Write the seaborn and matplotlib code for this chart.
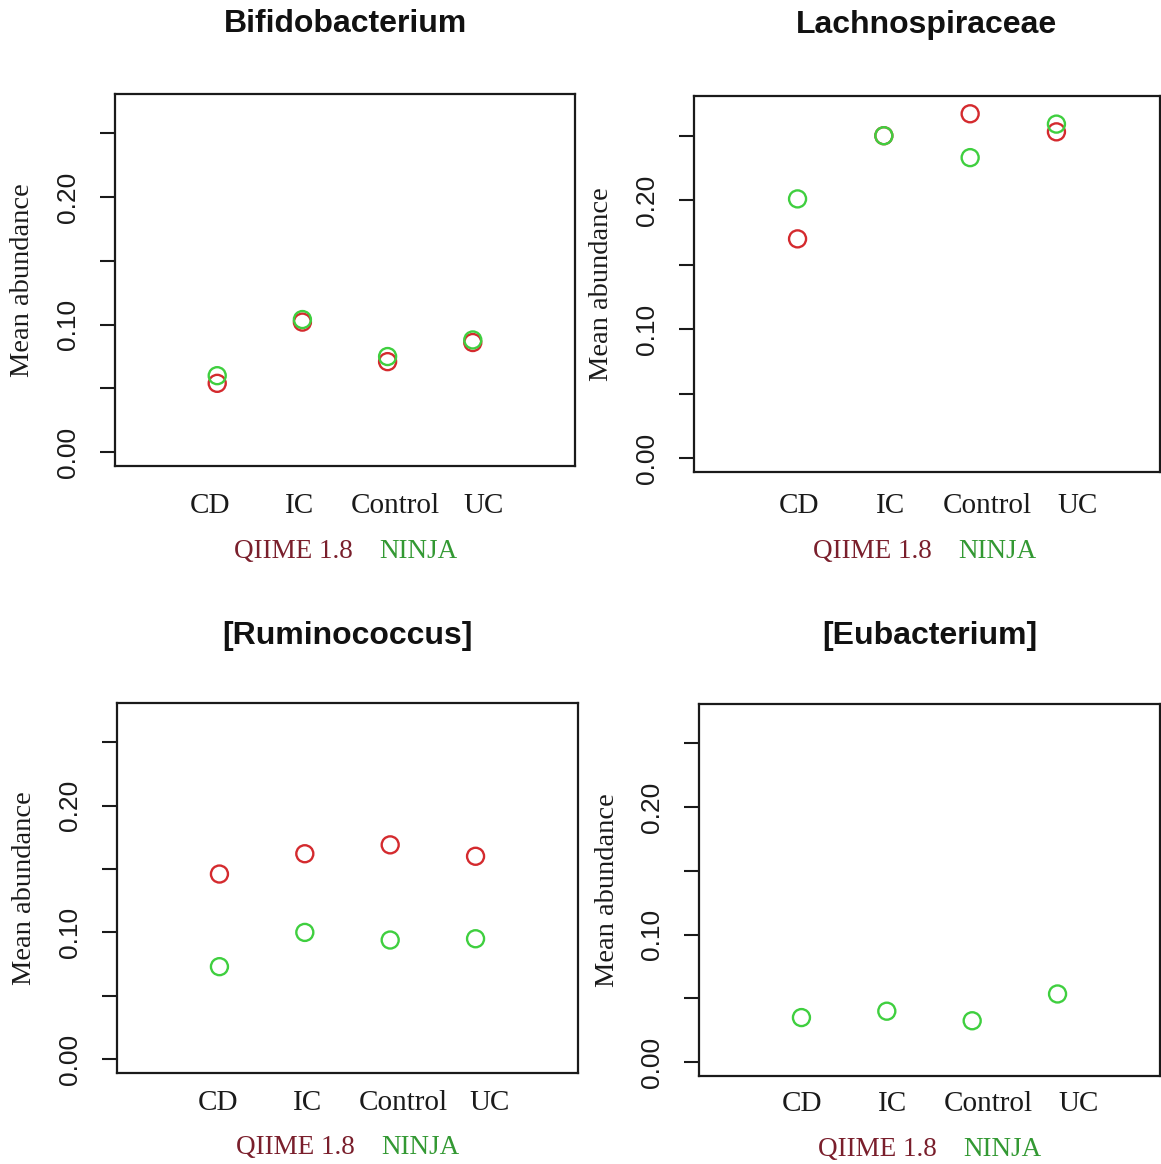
import matplotlib
matplotlib.use("Agg")
import matplotlib.pyplot as plt
import numpy as np
import pandas as pd
import seaborn as sns

# ---- data -------------------------------------------------------------
groups = ["CD", "IC", "Control", "UC"]
methods = ["QIIME 1.8", "NINJA"]
taxa = ["Bifidobacterium", "Lachnospiraceae", "[Ruminococcus]", "[Eubacterium]"]

bifido_qiime = [0.054, 0.102, 0.071, 0.086]
bifido_ninja = [0.060, 0.104, 0.075, 0.088]
lachno_qiime = [0.170, 0.250, 0.267, 0.253]
lachno_ninja = [0.201, 0.250, 0.233, 0.259]
rumino_qiime = [0.146, 0.162, 0.169, 0.160]
rumino_ninja = [0.073, 0.100, 0.094, 0.095]
eubac_qiime = [np.nan, np.nan, np.nan, np.nan]   # not reported by QIIME
eubac_ninja = [0.035, 0.040, 0.0325, 0.0535]

y_ticks = [0.00, 0.05, 0.10, 0.15, 0.20, 0.25]
y_tick_labels = ["0.00", "", "0.10", "", "0.20", ""]
y_title = "Mean abundance"

series = {
    "Bifidobacterium": (bifido_qiime, bifido_ninja),
    "Lachnospiraceae": (lachno_qiime, lachno_ninja),
    "[Ruminococcus]": (rumino_qiime, rumino_ninja),
    "[Eubacterium]": (eubac_qiime, eubac_ninja),
}

# ---- styling ----------------------------------------------------------
sns.set_theme(style="white")
plt.rcParams["font.family"] = ["Liberation Sans", "DejaVu Sans"]

point_colors = {"QIIME 1.8": "#d42a2e", "NINJA": "#3fcf3f"}
text_colors = {"QIIME 1.8": "#7a1f2c", "NINJA": "#339933"}
serif = ["Liberation Serif", "DejaVu Serif"]

W, H = 1161, 1164
fig = plt.figure(figsize=(W / 100, H / 100), dpi=100)

# axes boxes in pixels: left, top, right, bottom
boxes = [
    (115, 94, 575, 466),
    (694, 96, 1160, 472),
    (117, 703, 578, 1073),
    (699, 704, 1160, 1076),
]
# rows (pixels from top) of the title, the group labels and the method key
title_row = [24, 25, 636, 636]
group_row = [506, 506, 1103, 1104]
key_row = [551, 551, 1148, 1149]
# horizontal nudges of the group labels relative to their points
label_shift = [
    (-0.09, -0.035, 0.09, 0.13),
    (0.02, 0.08, 0.20, 0.25),
    (-0.02, 0.035, 0.15, 0.17),
    (0.01, 0.07, 0.19, 0.25),
]

xpos = np.arange(1, len(groups) + 1)

for i, taxon in enumerate(taxa):
    l, t, r, b = boxes[i]
    ax = fig.add_axes([l / W, 1 - b / H, (r - l) / W, (b - t) / H])
    q, n = series[taxon]
    df = pd.DataFrame({
        "pos": np.concatenate([xpos, xpos]),
        "abundance": list(q) + list(n),
        "method": [methods[0]] * len(groups) + [methods[1]] * len(groups),
    }).dropna()
    for m in methods:
        sub = df[df["method"] == m]
        if sub.empty:
            continue
        sns.scatterplot(data=sub, x="pos", y="abundance", ax=ax, s=150,
                        marker="o", facecolor="none",
                        edgecolor=point_colors[m], linewidth=1.7,
                        legend=False, zorder=3)

    # R-like ranges: data range extended by 4 %
    ax.set_xlim(-0.2, 5.2)
    ax.set_ylim(-0.0108, 0.2808)

    for sp in ax.spines.values():
        sp.set_visible(True)
        sp.set_color("#1a1a1a")
        sp.set_linewidth(1.6)

    ax.set_xticks([])
    ax.set_xlabel("")
    ax.set_ylabel("")
    ax.set_yticks(y_ticks)
    ax.set_yticklabels([])
    ax.tick_params(axis="y", which="both", left=True, length=10.5,
                   width=1.5, color="#1a1a1a", direction="out")

    bw, bh = r - l, b - t
    trans_y = ax.get_yaxis_transform()
    # y tick labels, rotated as in R
    for v, lab in zip(y_ticks, y_tick_labels):
        if lab:
            ax.text(-47 / bw, v, lab, transform=trans_y, rotation=90,
                    ha="center", va="center", fontsize=19, color="#1a1a1a")
    ax.text(-92 / bw, 0.5, y_title, transform=ax.transAxes, rotation=90,
            ha="center", va="center", fontsize=20.5, family=serif,
            color="#1a1a1a")

    # group labels
    gy = (b - group_row[i]) / bh
    trans_x = ax.get_xaxis_transform()
    for x, g, d in zip(xpos, groups, label_shift[i]):
        ax.text(x + d, gy, g, transform=trans_x, ha="center",
                va="center", fontsize=21, family=serif, color="#1a1a1a")

    # method key under the groups
    ky = (b - key_row[i]) / bh
    ax.text(178 / bw, ky, methods[0], transform=ax.transAxes,
            ha="center", va="center", fontsize=19.5, family=serif,
            color=text_colors[methods[0]])
    ax.text(303 / bw, ky, methods[1], transform=ax.transAxes,
            ha="center", va="center", fontsize=19.5, family=serif,
            color=text_colors[methods[1]])

    ty = (b - title_row[i]) / bh
    ax.text(0.5, ty, taxon, transform=ax.transAxes, ha="center",
            va="center", fontsize=23, fontweight="bold", color="#111111")

fig.savefig("out.png", dpi=100, facecolor="white")
